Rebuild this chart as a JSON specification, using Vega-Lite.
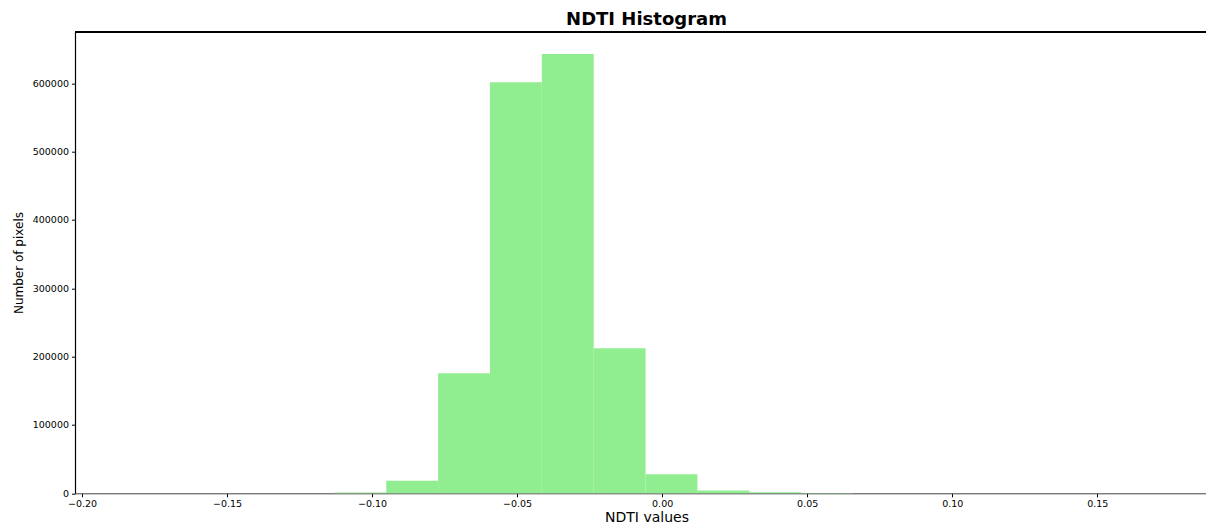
{
  "$schema": "https://vega.github.io/schema/vega-lite/v6.json",
  "autosize": {"type": "none"},
  "width": 1131,
  "height": 461.6,
  "padding": {"left": 75, "top": 31.7, "right": 0, "bottom": 31.7},
  "background": "white",
  "config": {
    "view": {"stroke": null},
    "font": "DejaVu Sans"
  },
  "title": {
    "text": "NDTI Histogram",
    "font": "DejaVu Sans",
    "fontSize": 18,
    "fontWeight": "bold",
    "color": "black",
    "anchor": "middle",
    "dx": 6,
    "dy": 17,
    "baseline": "alphabetic",
    "offset": 5
  },
  "data": {
    "values": [
      {"x0": -0.18452, "x1": -0.16664, "count": 30},
      {"x0": -0.16664, "x1": -0.14876, "count": 20},
      {"x0": -0.14876, "x1": -0.13088, "count": 60},
      {"x0": -0.13088, "x1": -0.11300, "count": 250},
      {"x0": -0.11300, "x1": -0.09512, "count": 1200},
      {"x0": -0.09512, "x1": -0.07724, "count": 18400},
      {"x0": -0.07724, "x1": -0.05936, "count": 175600},
      {"x0": -0.05936, "x1": -0.04148, "count": 601500},
      {"x0": -0.04148, "x1": -0.02360, "count": 642900},
      {"x0": -0.02360, "x1": -0.00572, "count": 212200},
      {"x0": -0.00572, "x1": 0.01216, "count": 27800},
      {"x0": 0.01216, "x1": 0.03004, "count": 4200},
      {"x0": 0.03004, "x1": 0.04792, "count": 1600},
      {"x0": 0.04792, "x1": 0.06580, "count": 300},
      {"x0": 0.06580, "x1": 0.08368, "count": 80},
      {"x0": 0.08368, "x1": 0.10156, "count": 30},
      {"x0": 0.10156, "x1": 0.11944, "count": 10},
      {"x0": 0.11944, "x1": 0.13732, "count": 5},
      {"x0": 0.13732, "x1": 0.15520, "count": 5},
      {"x0": 0.15520, "x1": 0.17308, "count": 20}
    ]
  },
  "layer": [
    {
      "mark": {"type": "bar", "color": "#90EE90", "stroke": null},
      "encoding": {
        "x": {
          "field": "x0",
          "type": "quantitative",
          "scale": {"domain": [-0.20241, 0.18748], "nice": false, "zero": false},
          "axis": {
            "title": "NDTI values",
            "values": [-0.2, -0.15, -0.1, -0.05, 0, 0.05, 0.1, 0.15],
            "format": ".2f",
            "grid": false,
            "domainColor": "#444444",
            "domainWidth": 1,
            "tickColor": "black",
            "tickSize": 3.5,
            "labelFont": "DejaVu Sans",
            "labelFontSize": 9.5,
            "labelColor": "black",
            "labelPadding": 2,
            "titleFont": "DejaVu Sans",
            "titleFontSize": 14,
            "titleFontWeight": "normal",
            "titleColor": "black",
            "titleX": 571.5,
            "titleY": 23.7,
            "titleBaseline": "middle",
            "titleAlign": "center"
          }
        },
        "x2": {"field": "x1"},
        "y": {
          "field": "count",
          "type": "quantitative",
          "scale": {"domain": [0, 675500], "nice": false, "zero": true},
          "axis": {
            "title": "Number of pixels",
            "values": [0, 100000, 200000, 300000, 400000, 500000, 600000],
            "format": "d",
            "grid": false,
            "domainColor": "black",
            "domainWidth": 1.2,
            "tickColor": "black",
            "tickSize": 3.5,
            "labelFont": "DejaVu Sans",
            "labelFontSize": 9.5,
            "labelColor": "black",
            "labelPadding": 3,
            "titleFont": "DejaVu Sans",
            "titleFontSize": 12,
            "titleFontWeight": "normal",
            "titleColor": "black",
            "titleX": -57,
            "titleY": 230.8,
            "titleAngle": -90,
            "titleBaseline": "middle",
            "titleAlign": "center"
          }
        },
        "y2": {"datum": 0}
      }
    },
    {
      "mark": {"type": "rule", "color": "black", "strokeWidth": 1.2},
      "encoding": {
        "y": {"datum": 675500}
      }
    }
  ]
}
